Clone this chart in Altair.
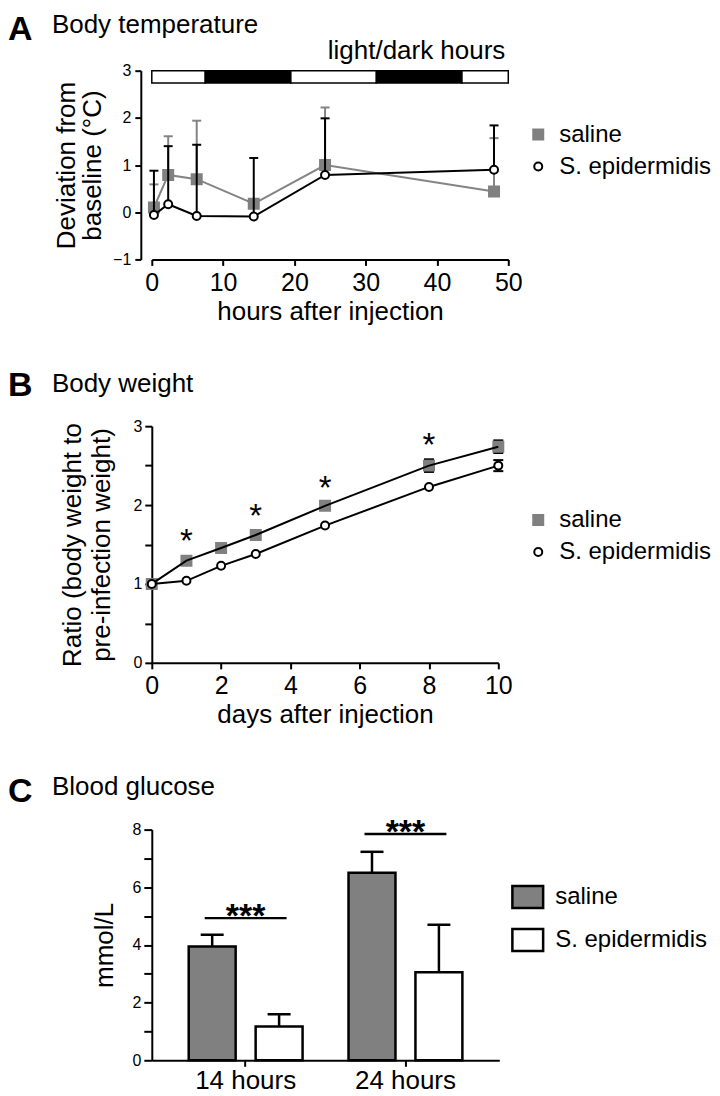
import altair as alt
import pandas as pd

FONT = "Liberation Sans"
GRAY = "#848484"
SERIES = ["saline", "S. epidermidis"]

# ---------------- Panel A: body temperature ----------------
hours = [0.3, 2.3, 6.3, 14.3, 24.3, 48.0]
temp_saline = [0.10, 0.79, 0.70, 0.18, 1.00, 0.44]
temp_saline_upper = [0.59, 1.61, 1.94, 0.25, 2.22, 1.57]
temp_epi = [-0.06, 0.17, -0.08, -0.09, 0.79, 0.90]
temp_epi_upper = [0.88, 1.40, 1.43, 1.15, 1.99, 1.84]
ld_start = [0, 7.5, 19.5, 31.5, 43.5]
ld_end = [7.5, 19.5, 31.5, 43.5, 50]
ld_phase = ["light", "dark", "light", "dark", "light"]

# ---------------- Panel B: body weight ----------------
days = [0, 1, 2, 3, 5, 8, 10]
wt_saline = [1.00, 1.295, 1.456, 1.62, 1.99, 2.50, 2.74]
wt_saline_err = [0, 0, 0, 0, 0, 0.08, 0.08]
wt_epi = [1.00, 1.04, 1.23, 1.38, 1.74, 2.23, 2.50]
wt_epi_err = [0, 0, 0, 0, 0, 0, 0.07]
star_days = [1, 3, 5, 8]
star_y = [1.63, 1.95, 2.31, 2.85]

# ---------------- Panel C: blood glucose ----------------
groups = ["14 hours", "24 hours"]
glu_saline = [3.95, 6.50]
glu_saline_upper = [4.35, 7.23]
glu_epi = [1.17, 3.05]
glu_epi_upper = [1.60, 4.70]
sig_y = [4.93, 7.85]

panel_letters = ["A", "B", "C"]
panel_titles = ["Body temperature", "Body weight", "Blood glucose"]

# ---------------- shared styling ----------------
series_scale_shape = alt.Scale(domain=SERIES, range=["square", "circle"])
series_scale_fill = alt.Scale(domain=SERIES, range=["#808080", "white"])
series_scale_stroke = alt.Scale(domain=SERIES, range=["#808080", "black"])
series_scale_size = alt.Scale(domain=SERIES, range=[100, 64])


def axis_common(**kw):
    base = dict(grid=False, domainColor="black", domainWidth=2, tickColor="black",
                tickWidth=2, labelColor="black", titleColor="black", labelFont=FONT,
                titleFont=FONT, titleFontWeight="normal", labelFlush=False,
                labelOverlap=False)
    base.update(kw)
    return alt.Axis(**base)


def point_legend(lx, ly):
    return alt.Legend(title=None, orient="none", legendX=lx, legendY=ly,
                      labelFont=FONT, labelFontSize=24, labelColor="black",
                      symbolStrokeWidth=2, labelOffset=9, rowPadding=8)


def header(i, letter_y, title_y):
    letter = alt.Chart(pd.DataFrame({"t": [panel_letters[i]]})).mark_text(
        font=FONT, fontSize=34, fontWeight="bold", align="left", baseline="alphabetic",
        color="black").encode(text="t:N", x=alt.value(-144), y=alt.value(letter_y))
    title = alt.Chart(pd.DataFrame({"t": [panel_titles[i]]})).mark_text(
        font=FONT, fontSize=26, align="left", baseline="alphabetic",
        color="black").encode(text="t:N", x=alt.value(-100), y=alt.value(title_y))
    return letter, title


# ---------- Panel A ----------
dfA = pd.DataFrame({
    "hours": hours * 2,
    "series": [SERIES[0]] * len(hours) + [SERIES[1]] * len(hours),
    "value": temp_saline + temp_epi,
    "upper": temp_saline_upper + temp_epi_upper,
})
ldA = pd.DataFrame({"start": ld_start, "end": ld_end, "phase": ld_phase})

xscaleA = alt.Scale(domain=[0, 50], nice=False)
yscaleA = alt.Scale(domain=[-1, 3], nice=False)
xaxisA = axis_common(values=[0, 10, 20, 30, 40, 50], title="hours after injection",
                     labelFontSize=25, titleFontSize=26, tickSize=6, labelPadding=5,
                     titlePadding=3)
yaxisA = axis_common(values=[-1, 0, 1, 2, 3], title=["Deviation from", "baseline (°C)"],
                     labelFontSize=16, titleFontSize=26, tickSize=6, labelPadding=4,
                     titlePadding=7, offset=11, titleLineHeight=26)


def XA(f):
    return alt.X(f, scale=xscaleA, axis=xaxisA)


def YA(f):
    return alt.Y(f, scale=yscaleA, axis=yaxisA)


ld_bar = alt.Chart(ldA).mark_rect(stroke="black", strokeWidth=1.5).encode(
    x=XA("start:Q"), x2="end:Q", y=alt.datum(2.74), y2=alt.datum(3.0),
    color=alt.Color("phase:N", scale=alt.Scale(domain=["light", "dark"], range=["white", "black"]),
                    legend=None))
ld_text = alt.Chart(pd.DataFrame({"t": ["light/dark hours"], "x": [50], "y": [3]})).mark_text(
    font=FONT, fontSize=26, align="right", baseline="alphabetic", dy=-12, dx=-3,
    color="black").encode(text="t:N", x=XA("x:Q"), y=YA("y:Q"))

baseA = alt.Chart(dfA)
sal = baseA.transform_filter(alt.datum.series == SERIES[0])
epi = baseA.transform_filter(alt.datum.series == SERIES[1])

legA = point_legend(375, 52)


def pts(src, leg, xenc, yenc):
    return src.mark_point(filled=False, opacity=1, strokeWidth=2).encode(
        x=xenc, y=yenc,
        shape=alt.Shape("series:N", scale=series_scale_shape, legend=leg),
        fill=alt.Fill("series:N", scale=series_scale_fill, legend=leg),
        stroke=alt.Stroke("series:N", scale=series_scale_stroke, legend=leg),
        size=alt.Size("series:N", scale=series_scale_size, legend=leg))


layersA = [
    ld_bar, ld_text,
    sal.mark_line(color=GRAY, strokeWidth=2).encode(x=XA("hours:Q"), y=YA("value:Q")),
    sal.mark_rule(color=GRAY, strokeWidth=2).encode(x=XA("hours:Q"), y=YA("value:Q"), y2="upper:Q"),
    sal.mark_tick(orient="horizontal", size=9, thickness=2, color=GRAY, opacity=1).encode(
        x=XA("hours:Q"), y=YA("upper:Q")),
    pts(sal, legA, XA("hours:Q"), YA("value:Q")),
    epi.mark_rule(color="black", strokeWidth=2).encode(x=XA("hours:Q"), y=YA("value:Q"), y2="upper:Q"),
    epi.mark_tick(orient="horizontal", size=9, thickness=2, color="black", opacity=1).encode(
        x=XA("hours:Q"), y=YA("upper:Q")),
    epi.mark_line(color="black", strokeWidth=2).encode(x=XA("hours:Q"), y=YA("value:Q")),
    pts(epi, legA, XA("hours:Q"), YA("value:Q")),
]
lA, tA = header(0, -31, -38)
chartA = alt.layer(*layersA, lA, tA).properties(width=357, height=189)

# ---------- Panel B ----------
dfB = pd.DataFrame({
    "day": days * 2,
    "series": [SERIES[0]] * len(days) + [SERIES[1]] * len(days),
    "value": wt_saline + wt_epi,
    "err": wt_saline_err + wt_epi_err,
})
starsB = pd.DataFrame({"day": star_days, "y": star_y, "t": ["*"] * len(star_days)})

xscaleB = alt.Scale(domain=[0, 10], nice=False)
yscaleB = alt.Scale(domain=[0, 3], nice=False)
xaxisB = axis_common(values=[0, 2, 4, 6, 8, 10], title="days after injection",
                     labelFontSize=25, titleFontSize=26, tickSize=6, labelPadding=5,
                     titlePadding=3)
yaxisB = axis_common(values=[0, 0.5, 1, 1.5, 2, 2.5, 3],
                     labelExpr="datum.value % 1 === 0 ? format(datum.value, 'd') : ''",
                     title=["Ratio (body weight to", "pre-infection weight)"],
                     labelFontSize=16, titleFontSize=26, tickSize=7, labelPadding=3,
                     titlePadding=18, titleLineHeight=29)


def XB(f):
    return alt.X(f, scale=xscaleB, axis=xaxisB)


def YB(f):
    return alt.Y(f, scale=yscaleB, axis=yaxisB)


baseB = alt.Chart(dfB).transform_calculate(lo="datum.value - datum.err", hi="datum.value + datum.err")
errB = baseB.transform_filter(alt.datum.err > 0)
salB = baseB.transform_filter(alt.datum.series == SERIES[0])
epiB = baseB.transform_filter(alt.datum.series == SERIES[1])
legB = point_legend(375, 82)

layersB = [
    errB.mark_rule(color="black", strokeWidth=2).encode(x=XB("day:Q"), y=YB("lo:Q"), y2="hi:Q"),
    errB.mark_tick(orient="horizontal", size=10, thickness=2, color="black", opacity=1).encode(
        x=XB("day:Q"), y=YB("hi:Q")),
    errB.mark_tick(orient="horizontal", size=10, thickness=2, color="black", opacity=1).encode(
        x=XB("day:Q"), y=YB("lo:Q")),
    pts(salB, legB, XB("day:Q"), YB("value:Q")),
    salB.mark_line(color="black", strokeWidth=2).encode(x=XB("day:Q"), y=YB("value:Q")),
    epiB.mark_line(color="black", strokeWidth=2).encode(x=XB("day:Q"), y=YB("value:Q")),
    pts(epiB, legB, XB("day:Q"), YB("value:Q")),
    alt.Chart(starsB).mark_text(font=FONT, fontSize=33, dy=18, baseline="alphabetic",
                                color="black").encode(x=XB("day:Q"), y=YB("y:Q"), text="t:N"),
]
lB, tB = header(1, -30, -34)
chartB = alt.layer(*layersB, lB, tB).properties(width=347, height=237)

# ---------- Panel C ----------
dfC = pd.DataFrame({
    "group": groups * 2,
    "series": [SERIES[0]] * 2 + [SERIES[1]] * 2,
    "value": glu_saline + glu_epi,
    "upper": glu_saline_upper + glu_epi_upper,
})
sigC = pd.DataFrame({"group": groups, "y": sig_y, "t": ["***"] * 2})

xaxisC = axis_common(title=None, labelFontSize=26, tickSize=6, labelPadding=1, labelAngle=0)
yaxisC = axis_common(values=list(range(0, 9)),
                     labelExpr="datum.value % 2 === 0 ? datum.label : ''",
                     title="mmol/L", labelFontSize=16, titleFontSize=26, tickSize=8,
                     labelPadding=3, titlePadding=14)
xscaleC = alt.Scale(domain=groups, paddingInner=0.2875, paddingOuter=0.231)
yscaleC = alt.Scale(domain=[0, 8], nice=False)
offscaleC = alt.Scale(domain=SERIES, paddingInner=0.2985, paddingOuter=0)


def XC():
    return alt.X("group:N", scale=xscaleC, axis=xaxisC, sort=groups)


def YC(f):
    return alt.Y(f, scale=yscaleC, axis=yaxisC)


legC = alt.Legend(title=None, orient="none", legendX=364, legendY=55, labelFont=FONT,
                  labelFontSize=24, labelColor="black", symbolType="M-1.4,-1H1.4V1H-1.4Z",
                  symbolSize=484, symbolStrokeColor="black", symbolStrokeWidth=2.5,
                  labelOffset=15, rowPadding=10)
baseC = alt.Chart(dfC)
layersC = [
    baseC.mark_rule(color="black", strokeWidth=2.5).encode(
        x=XC(), xOffset=alt.XOffset("series:N", scale=offscaleC, sort=SERIES),
        y=YC("value:Q"), y2="upper:Q"),
    baseC.mark_tick(orient="horizontal", size=23, thickness=2.5, color="black", opacity=1).encode(
        x=XC(), xOffset=alt.XOffset("series:N", scale=offscaleC, sort=SERIES), y=YC("upper:Q")),
    baseC.mark_bar(stroke="black", strokeWidth=2.5).encode(
        x=XC(), xOffset=alt.XOffset("series:N", scale=offscaleC, sort=SERIES),
        y=YC("value:Q"),
        fill=alt.Fill("series:N", scale=series_scale_fill, legend=legC)),
    alt.Chart(sigC).mark_tick(orient="horizontal", size=82, thickness=2.5, color="black",
                              opacity=1).encode(x=XC(), y=YC("y:Q")),
    alt.Chart(sigC).mark_text(font=FONT, fontSize=34, fontWeight="bold", dy=9,
                              baseline="alphabetic", color="black").encode(
        x=XC(), y=YC("y:Q"), text="t:N"),
]
lC, tC = header(2, -28, -35)
chartC = alt.layer(*layersC, lC, tC).properties(width=348, height=231)

chart = alt.vconcat(chartA, chartB, chartC, spacing=167, bounds="flush").resolve_scale(
    shape="independent", fill="independent", stroke="independent", size="independent",
    color="independent"
).properties(padding={"top": 3, "left": 0, "right": 0, "bottom": 0}).configure_view(
    stroke=None).configure_axis(grid=False)

chart.save("out.html", embed_options={"renderer": "svg", "actions": False})
